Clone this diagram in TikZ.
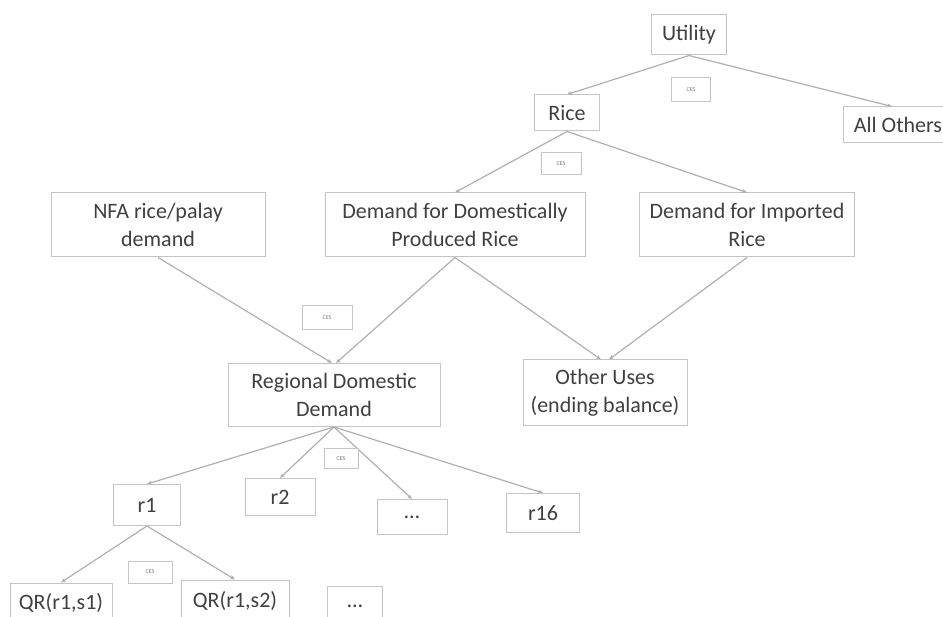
\documentclass[tikz,border=0pt]{standalone}
\usepackage{fontspec}
\setmainfont{Carlito}
\usetikzlibrary{arrows.meta}
\definecolor{boxc}{HTML}{C4C4C4}
\definecolor{linec}{HTML}{B0B0B0}
\definecolor{txtc}{HTML}{404040}
\begin{document}
\begin{tikzpicture}[x=1pt,y=-1pt,
  bx/.style={draw=boxc,line width=1pt,fill=white,text=txtc,align=center,inner sep=0pt,
    font=\fontsize{22}{28}\selectfont},
  lab/.style={draw=boxc,line width=1pt,fill=white,text=txtc!70,inner sep=0pt,
    font=\fontsize{6}{7}\selectfont},
  con/.style={draw=linec,line width=1.2pt,-{Stealth[length=5pt,width=4pt]}}]
\useasboundingbox (0,0) rectangle (943,617);
\fill[white] (0,0) rectangle (943,617);
% nodes
\node[bx,minimum width=75pt,minimum height=40pt] (util) at (689,35) {Utility};
\node[bx,minimum width=110pt,minimum height=36pt] (allo) at (898,125) {All Others};
\node[bx,minimum width=65pt,minimum height=36pt] (rice) at (567,113) {Rice};
\node[bx,minimum width=214pt,minimum height=64pt] (nfa) at (158,225) {NFA rice/palay\\demand};
\node[bx,minimum width=260pt,minimum height=64pt] (dom) at (455,225) {Demand for Domestically\\Produced Rice};
\node[bx,minimum width=215pt,minimum height=64pt] (imp) at (747,225) {Demand for Imported\\Rice};
\node[bx,minimum width=212pt,minimum height=63pt] (reg) at (334,395) {Regional Domestic\\Demand};
\node[bx,minimum width=164pt,minimum height=66pt] (oth) at (605,393) {Other Uses\\(ending balance)};
\node[bx,minimum width=67pt,minimum height=41pt] (r1) at (147,505) {r1};
\node[bx,minimum width=70pt,minimum height=37pt] (r2) at (280,497) {r2};
\node[bx,minimum width=70pt,minimum height=35pt] (rdots) at (412,517) {…};
\node[bx,minimum width=73pt,minimum height=39pt] (r16) at (543,513) {r16};
\node[bx,minimum width=102pt,minimum height=40pt] (qr1) at (61,603) {QR(r1,s1)};
\node[bx,minimum width=108pt,minimum height=42pt] (qr2) at (235,601) {QR(r1,s2)};
\node[bx,minimum width=55pt,minimum height=40pt] (qdots) at (355,606) {…};
% connectors
\coordinate (alloin) at ([xshift=-6pt]allo.north);
\draw[con] (util.south) -- (rice.north);
\draw[con] (util.south) -- (alloin);
\draw[con] (rice.south) -- (dom.north);
\draw[con] (rice.south) -- (imp.north);
\coordinate (regin1) at ([xshift=-2pt]reg.north);
\coordinate (regin2) at ([xshift=2pt]reg.north);
\draw[con] (nfa.south) -- (regin1);
\draw[con] (dom.south) -- (regin2);
\coordinate (othin1) at ([xshift=-4pt]oth.north);
\coordinate (othin2) at ([xshift=4pt]oth.north);
\draw[con] (dom.south) -- (othin1);
\draw[con] (imp.south) -- (othin2);
\draw[con] (reg.south) -- (r1.north);
\draw[con] (reg.south) -- (r2.north);
\draw[con] (reg.south) -- (rdots.north);
\draw[con] (reg.south) -- (r16.north);
\draw[con] (r1.south) -- (qr1.north);
\draw[con] (r1.south) -- (qr2.north);
% CES labels
\node[lab,minimum width=39pt,minimum height=24pt] (ces1) at (691,90) {CES};
\node[lab,minimum width=40pt,minimum height=22pt] (ces2) at (561,164) {CES};
\node[lab,minimum width=50pt,minimum height=24pt] (ces3) at (327,318) {CES};
\node[lab,minimum width=34pt,minimum height=20pt] (ces4) at (341,459) {CES};
\node[lab,minimum width=44pt,minimum height=22pt] (ces5) at (150,572) {CES};
\end{tikzpicture}
\end{document}
